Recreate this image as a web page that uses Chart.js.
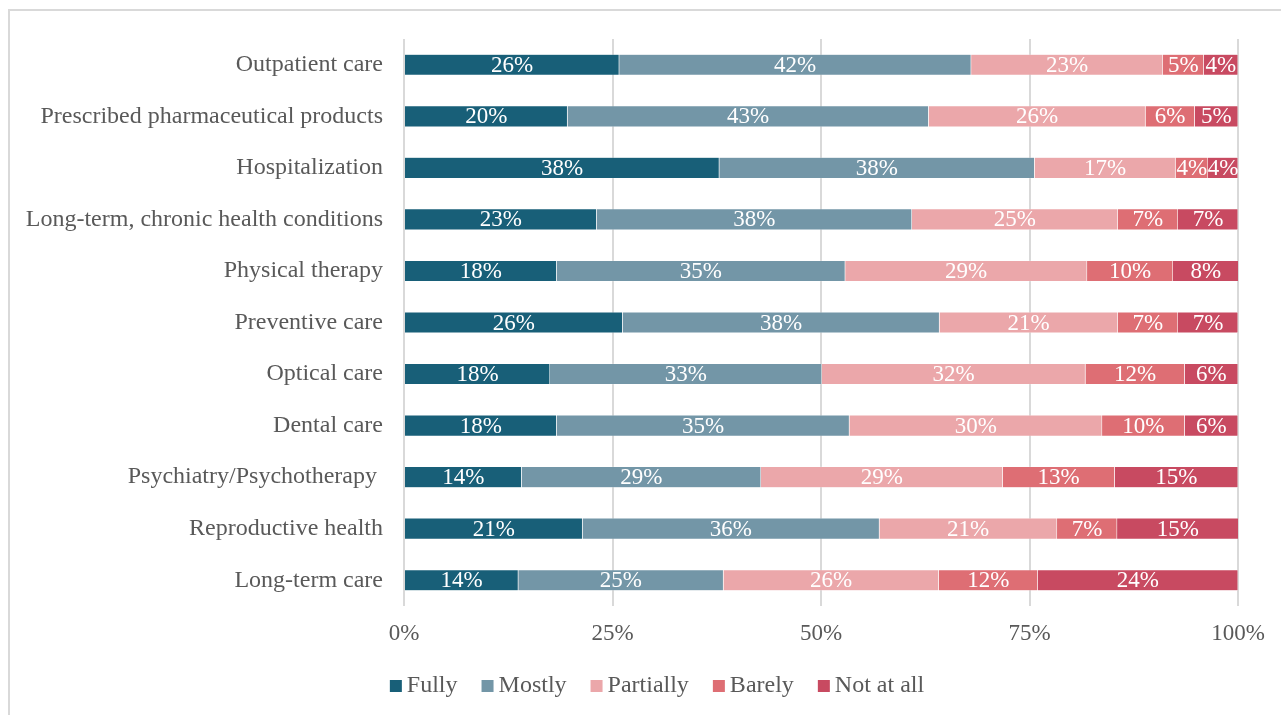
<!DOCTYPE html>
<html>
<head>
<meta charset="utf-8">
<script src="https://cdn.jsdelivr.net/npm/chart.js@4/dist/chart.umd.min.js"></script>
<style>
html,body{margin:0;padding:0;background:#fff;overflow:hidden;}
#wrap{position:relative;width:1281px;height:715px;}
#frame{position:absolute;left:8px;top:9px;width:1400px;height:800px;border:2px solid #d9d9d9;box-sizing:border-box;}
#c{position:absolute;left:0;top:0;}
</style>
</head>
<body>
<div id="wrap"><div id="frame"></div><canvas id="c" width="1281" height="715"></canvas></div>
<script>
const categories = [
  "Outpatient care",
  "Prescribed pharmaceutical products",
  "Hospitalization",
  "Long-term, chronic health conditions",
  "Physical therapy",
  "Preventive care",
  "Optical care",
  "Dental care",
  "Psychiatry/Psychotherapy ",
  "Reproductive health",
  "Long-term care"
];
const fully     = [25.8, 19.6, 37.8, 23.1, 18.3, 26.2, 17.5, 18.3, 14.1, 21.4, 13.7];
const mostly    = [42.2, 43.3, 37.8, 37.8, 34.6, 38.0, 32.6, 35.1, 28.7, 35.6, 24.6];
const partially = [23.0, 26.0, 16.9, 24.7, 29.0, 21.4, 31.6, 30.3, 29.0, 21.3, 25.8];
const barely    = [4.9, 5.9, 3.9, 7.2, 10.3, 7.2, 11.9, 9.9, 13.4, 7.2, 11.9];
const notAtAll  = [4.1, 5.2, 3.6, 7.2, 7.9, 7.2, 6.4, 6.4, 14.8, 14.6, 24.0];
const seriesNames = ["Fully", "Mostly", "Partially", "Barely", "Not at all"];
const seriesColors = ["#185f78", "#7396a7", "#eba7aa", "#de6e74", "#c84a61"];
const xTicks = [0, 25, 50, 75, 100];

const seriesData = [fully, mostly, partially, barely, notAtAll];
const FONT = "'Liberation Serif', 'Times New Roman', serif";
const TEXT_GREY = "#595959";

const barLabels = {
  id: 'barLabels',
  afterDatasetsDraw(chart) {
    const ctx = chart.ctx;
    ctx.save();
    ctx.font = "23px " + FONT;
    ctx.fillStyle = "#ffffff";
    ctx.textAlign = "center";
    ctx.textBaseline = "middle";
    chart.data.datasets.forEach((ds, i) => {
      const meta = chart.getDatasetMeta(i);
      meta.data.forEach((bar, j) => {
        const v = ds.data[j];
        const cx = (bar.x + bar.base) / 2;
        ctx.fillText(Math.round(v) + "%", cx, bar.y + 1);
      });
    });
    ctx.restore();
  }
};

const customLegend = {
  id: 'customLegend',
  afterDraw(chart) {
    const ctx = chart.ctx;
    ctx.save();
    ctx.font = "24px " + FONT;
    ctx.textBaseline = "middle";
    ctx.textAlign = "left";
    const box = 12, gapText = 5, gapItem = 24;
    const items = chart.data.datasets.map(ds => ({ text: ds.label, color: ds.backgroundColor, w: ctx.measureText(ds.label).width }));
    let total = 0;
    items.forEach((it, k) => { total += box + gapText + it.w + (k < items.length - 1 ? gapItem : 0); });
    let x = 657 - total / 2;
    const y = 686;
    items.forEach(it => {
      ctx.fillStyle = it.color;
      ctx.fillRect(x, y - box / 2, box, box);
      ctx.fillStyle = TEXT_GREY;
      ctx.fillText(it.text, x + box + gapText, y);
      x += box + gapText + it.w + gapItem;
    });
    ctx.restore();
  }
};

new Chart(document.getElementById('c'), {
  type: 'bar',
  data: {
    labels: categories,
    datasets: seriesNames.map((n, i) => ({
      label: n,
      data: seriesData[i],
      backgroundColor: seriesColors[i],
      borderColor: 'rgba(255,255,255,0.6)',
      borderWidth: 0.5,
      barPercentage: 0.82,
      categoryPercentage: 0.5
    }))
  },
  options: {
    indexAxis: 'y',
    responsive: false,
    animation: false,
    devicePixelRatio: 1,
    layout: { padding: { top: 39, right: 43, left: 0, bottom: 49 } },
    plugins: {
      legend: { display: false },
      tooltip: { enabled: false }
    },
    scales: {
      x: {
        stacked: true,
        min: 0,
        max: 100,
        afterBuildTicks(axis) { axis.ticks = xTicks.map(v => ({ value: v })); },
        afterFit(axis) { axis.height = 60; },
        ticks: {
          callback: v => v + '%',
          font: { family: FONT, size: 23 },
          color: TEXT_GREY,
          padding: 14
        },
        grid: { color: '#d9d9d9', lineWidth: 2, drawTicks: false },
        border: { display: false }
      },
      y: {
        stacked: true,
        afterFit(axis) { axis.width = 404; },
        ticks: {
          font: { family: FONT, size: 24 },
          color: TEXT_GREY,
          padding: 21
        },
        grid: { display: false, drawTicks: false },
        border: { display: false }
      }
    }
  },
  plugins: [barLabels, customLegend]
});
</script>
</body>
</html>
